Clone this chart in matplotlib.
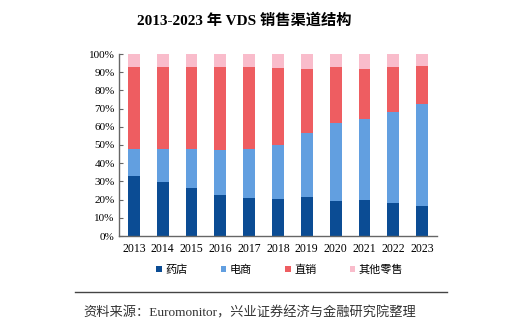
import matplotlib.pyplot as plt
from matplotlib.ticker import PercentFormatter
import numpy as np

plt.rcParams['font.family'] = ['Liberation Serif', 'Noto Sans CJK SC']

years = ['2013', '2014', '2015', '2016', '2017', '2018', '2019', '2020', '2021', '2022', '2023']
# share of each channel, percent
pharmacy = [32.9, 29.8, 26.3, 22.6, 21.0, 20.2, 21.3, 19.0, 19.7, 18.2, 16.4]
ecommerce = [14.7, 17.8, 21.3, 24.5, 26.8, 29.8, 35.1, 43.3, 44.8, 50.2, 56.2]
direct = [45.0, 45.0, 45.0, 45.7, 44.8, 42.3, 35.3, 30.3, 27.2, 24.2, 20.8]
other = [7.4, 7.4, 7.4, 7.2, 7.4, 7.7, 8.3, 7.4, 8.3, 7.4, 6.6]

labels = ['药店', '电商', '直销', '其他零售']
colors = ['#0B4C94', '#629FE0', '#EE5D61', '#F9BCCB']

fig = plt.figure(figsize=(5.26, 3.34), dpi=100)
ax = fig.add_axes([119 / 526, 1 - 236 / 334, 318 / 526, 182 / 334])

x = np.arange(len(years))
bottom = np.zeros(len(years))
for series, lab, c in zip([pharmacy, ecommerce, direct, other], labels, colors):
    ax.bar(x, series, width=0.41, bottom=bottom, color=c, label=lab)
    bottom += np.array(series)

ax.set_xlim(-0.52, 10.52)
ax.set_ylim(0, 100)
ax.set_yticks(np.arange(0, 101, 10))
ax.yaxis.set_major_formatter(PercentFormatter(decimals=0))
ax.set_xticks(x)
ax.set_xticklabels(years)
for s in ['top', 'right']:
    ax.spines[s].set_visible(False)
for s in ['left', 'bottom']:
    ax.spines[s].set_color('#666666')
    ax.spines[s].set_linewidth(1.0)
ax.tick_params(axis='y', direction='in', length=3, color='#666666', labelsize=8, pad=3)
ax.tick_params(axis='x', length=0, labelsize=8.5, pad=5)

fig.text(0.464, 1 - 20 / 334, '2013-2023 年 VDS 销售渠道结构', ha='center', va='center',
         fontsize=11, fontweight='bold', family=['Liberation Serif', 'Noto Sans CJK SC'])

fig.legend(loc='center', bbox_to_anchor=(0.532, 1 - 270 / 334), ncol=4, frameon=False,
           fontsize=8, handlelength=0.5, handleheight=0.5, handletextpad=0.3,
           columnspacing=3.0)

fig.add_artist(plt.Line2D([75 / 526, 447 / 526], [1 - 292 / 334] * 2,
                          color='#444444', linewidth=1.0, transform=fig.transFigure))
fig.text(83 / 526, 1 - 313 / 334, '资料来源：Euromonitor，兴业证券经济与金融研究院整理',
         ha='left', va='center', fontsize=9.5, color='#333333')

fig.savefig('out.png', dpi=100)
